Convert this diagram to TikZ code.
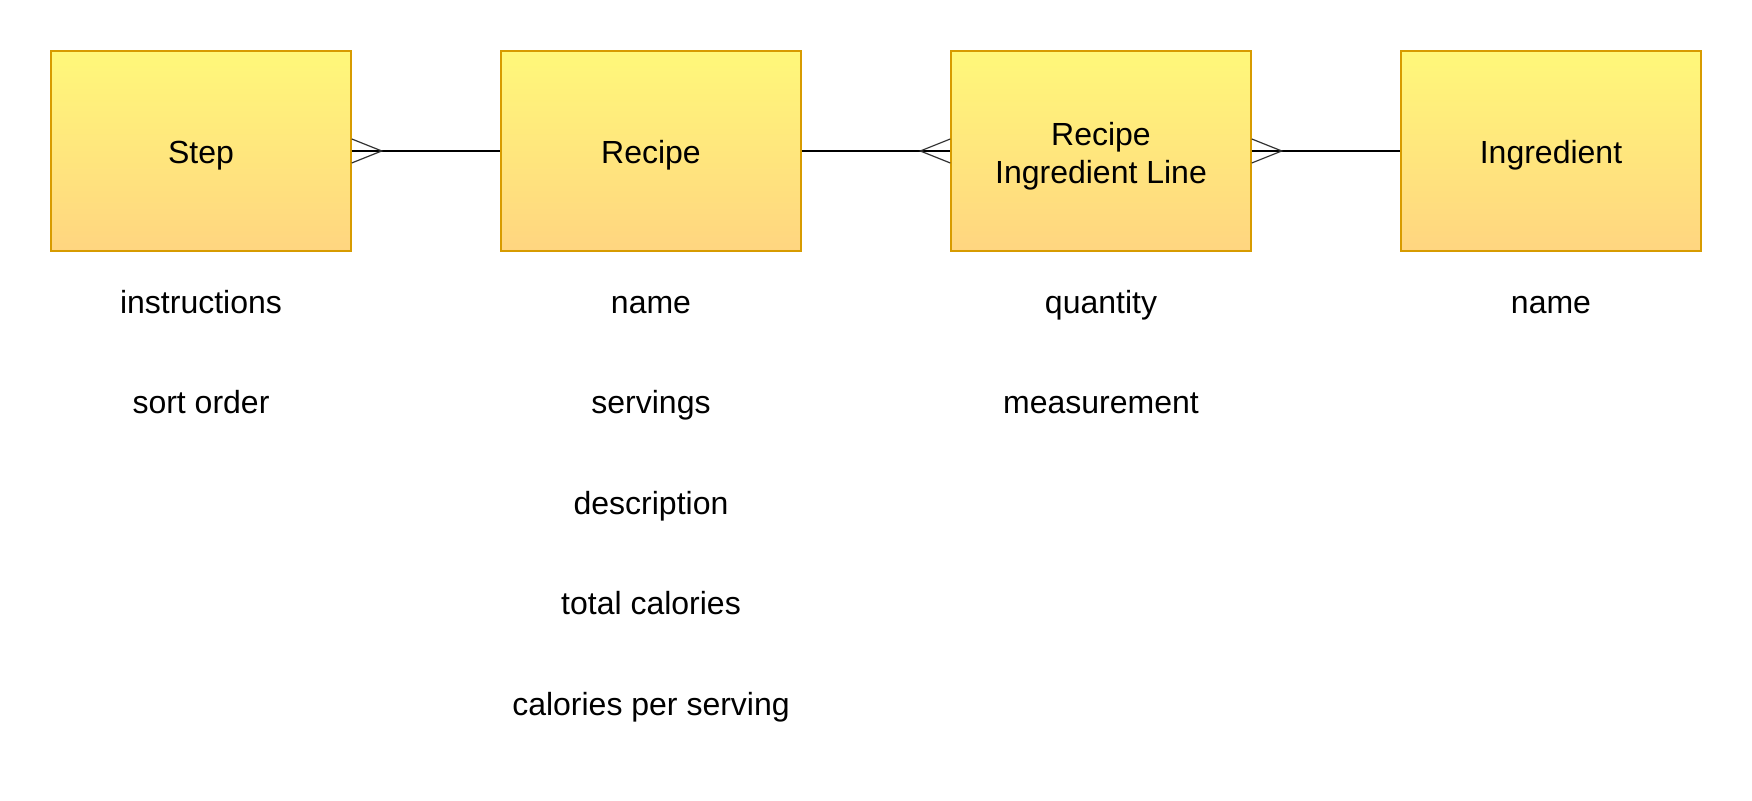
\documentclass[tikz,border=0pt]{standalone}
\usepackage{fontspec}
\setmainfont{Liberation Sans}
\begin{document}
\begin{tikzpicture}[x=0.5pt,y=-0.5pt,
  entity/.style={draw=boxstroke, line width=0.75pt, top color=boxtop, bottom color=boxbot,
    minimum width=150pt, minimum height=100pt, inner sep=0pt, align=center,
    text height=12.5pt, text depth=0pt,
    font=\fontsize{16}{19}\selectfont},
  attr/.style={font=\fontsize{16}{19}\selectfont, inner sep=0pt,
    text height=12.5pt, text depth=0pt},
  rel/.style={draw=black, line width=0.8pt},
  foot/.style={draw=black!80, line width=0.6pt}]
\definecolor{boxstroke}{HTML}{D79B00}
\definecolor{boxtop}{HTML}{FFF87A}
\definecolor{boxbot}{HTML}{FFD580}
\useasboundingbox (0,0) rectangle (1752,801);
\node[entity] (step) at (201,151) {Step};
\node[entity] (recipe) at (651,151) {Recipe};
\node[entity, text height=32.5pt] (ril) at (1101,151) {Recipe\\Ingredient Line};
\node[entity] (ing) at (1551,151) {Ingredient};

\node[attr] (s1) at (201,301) {instructions};
\node[attr] (s2) at (201,401.5) {sort order};
\node[attr] (r1) at (651,301) {name};
\node[attr] (r2) at (651,401.5) {servings};
\node[attr] (r3) at (651,502) {description};
\node[attr] (r4) at (651,602.5) {total calories};
\node[attr] (r5) at (651,703) {calories per serving};
\node[attr] (l1) at (1101,301) {quantity};
\node[attr] (l2) at (1101,401.5) {measurement};
\node[attr] (i1) at (1551,301) {name};

\draw[rel] (step.east) -- (recipe.west);
\draw[foot] ([yshift=6pt]step.east) -- ([xshift=15pt]step.east) -- ([yshift=-6pt]step.east);
\draw[rel] (recipe.east) -- (ril.west);
\draw[foot] ([yshift=6pt]ril.west) -- ([xshift=-15pt]ril.west) -- ([yshift=-6pt]ril.west);
\draw[rel] (ril.east) -- (ing.west);
\draw[foot] ([yshift=6pt]ril.east) -- ([xshift=15pt]ril.east) -- ([yshift=-6pt]ril.east);
\end{tikzpicture}
\end{document}
